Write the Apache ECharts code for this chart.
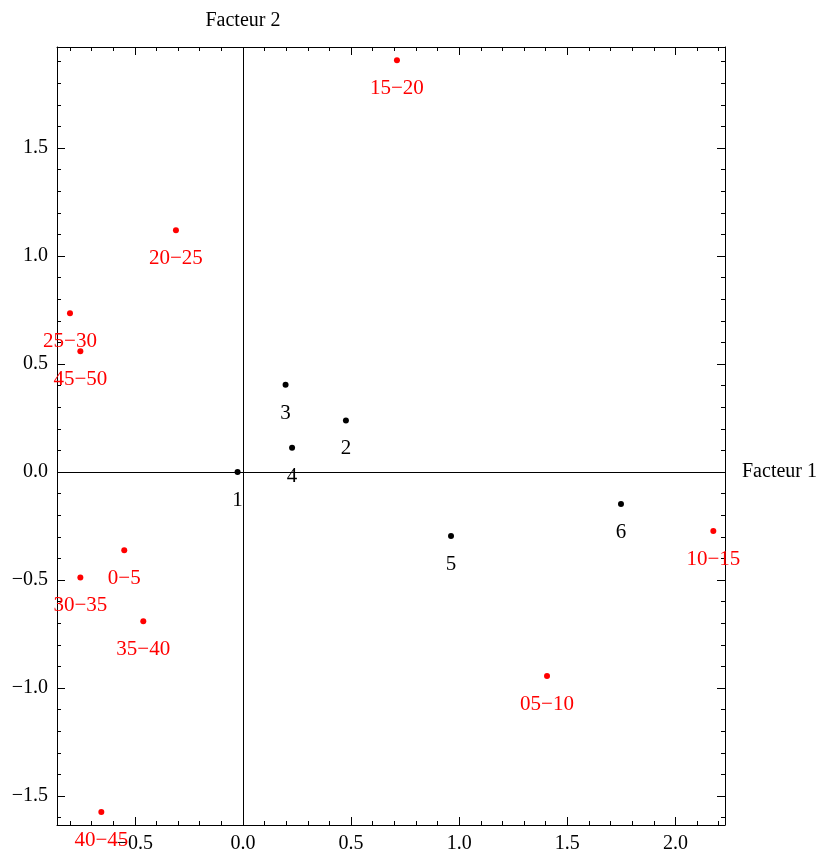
<!DOCTYPE html>
<html>
<head>
<meta charset="utf-8">
<script src="https://cdn.jsdelivr.net/npm/echarts@6/dist/echarts.min.js"></script>
<style>
html,body{margin:0;padding:0;background:#fff;}
#c{width:816px;height:851px;}
</style>
</head>
<body>
<div id="c"></div>
<script>
// ---- data ----
var ageLabels = ['15−20','20−25','25−30','45−50','0−5','30−35','35−40','40−45','10−15','05−10'];
var ageX = [0.712,-0.310,-0.800,-0.752,-0.549,-0.752,-0.461,-0.655,2.175,1.406];
var ageY = [1.907,1.120,0.735,0.559,-0.362,-0.488,-0.691,-1.574,-0.273,-0.944];

var clusterLabels = ['1','2','3','4','5','6'];
var clusterX = [-0.025,0.476,0.197,0.227,0.962,1.748];
var clusterY = [0.000,0.239,0.404,0.113,-0.296,-0.148];

var xMajorTicks = [-0.5,0.0,0.5,1.0,1.5,2.0];
var yMajorTicks = [-1.5,-1.0,-0.5,0.0,0.5,1.0,1.5];
var xRange = [-0.860, 2.229];
var yRange = [-1.634, 1.968];
var xName = 'Facteur 1';
var yName = 'Facteur 2';

// ---- helpers ----
function minorTicks(lo, hi){
  var out = [];
  for (var i = Math.ceil(lo*10); i <= Math.floor(hi*10); i++){
    if (i % 5 !== 0) out.push(Math.round(i)/10);
  }
  return out;
}
var xMinor = minorTicks(xRange[0], xRange[1]);
var yMinor = minorTicks(yRange[0], yRange[1]);
function fmt(v){ return (v < 0 ? '−' : '') + Math.abs(v).toFixed(1); }

var FONT = 'Liberation Serif';
var tickFont = {fontFamily: FONT, fontSize: 20, color: '#000'};

function makeAxis(kind, pos, major, withLine, withLabel, range){
  var vals = major ? (kind==='x' ? xMajorTicks : yMajorTicks) : (kind==='x' ? xMinor : yMinor);
  return {
    type: 'value', position: pos, min: range[0], max: range[1],
    axisLine: {show: withLine, onZero: false, lineStyle: {color: '#000', width: 1}},
    axisTick: {show: true, inside: true, length: major ? 8 : 4, customValues: vals, lineStyle: {color: '#000', width: 1}},
    axisLabel: withLabel ? Object.assign({show: true, customValues: vals, formatter: fmt, margin: 9}, tickFont) : {show: false},
    splitLine: {show: false},
    minorTick: {show: false}
  };
}

var xAxes = [
  makeAxis('x','bottom',true,true,true,xRange),
  makeAxis('x','bottom',false,false,false,xRange),
  makeAxis('x','top',true,true,false,xRange),
  makeAxis('x','top',false,false,false,xRange)
];
var yAxes = [
  makeAxis('y','left',true,true,true,yRange),
  makeAxis('y','left',false,false,false,yRange),
  makeAxis('y','right',true,true,false,yRange),
  makeAxis('y','right',false,false,false,yRange)
];

var ageData = ageX.map(function(x,i){ return {value:[x, ageY[i]], name: ageLabels[i]}; });
var clusterData = clusterX.map(function(x,i){ return {value:[x, clusterY[i]], name: clusterLabels[i]}; });

var option = {
  backgroundColor: '#fff',
  animation: false,
  grid: {left: 57, top: 47, right: 91, bottom: 26, containLabel: false, outerBoundsMode: 'none'},
  xAxis: xAxes,
  yAxis: yAxes,
  series: [
    {
      type: 'scatter', xAxisIndex: 0, yAxisIndex: 0,
      data: [], symbol: 'none', silent: true,
      markLine: {
        silent: true, symbol: 'none', animation: false,
        lineStyle: {color: '#000', width: 1, type: 'solid', opacity: 1},
        data: [
          {yAxis: 0, label: {show: true, position: 'end', formatter: xName, distance: 17,
            fontFamily: FONT, fontSize: 20, color: '#000'}},
          {xAxis: 0, label: {show: true, position: 'end', formatter: yName, distance: 16,
            fontFamily: FONT, fontSize: 20, color: '#000'}}
        ]
      }
    },
    {
      type: 'scatter', xAxisIndex: 0, yAxisIndex: 0, z: 3,
      symbol: 'circle', symbolSize: 6,
      itemStyle: {color: '#ff0000', opacity: 1},
      data: ageData,
      label: {show: true, position: 'bottom', distance: 15, formatter: '{b}',
        fontFamily: FONT, fontSize: 21, color: '#ff0000', opacity: 1}
    },
    {
      type: 'scatter', xAxisIndex: 0, yAxisIndex: 0, z: 3,
      symbol: 'circle', symbolSize: 6,
      itemStyle: {color: '#000000', opacity: 1},
      data: clusterData,
      label: {show: true, position: 'bottom', distance: 15, formatter: '{b}',
        fontFamily: FONT, fontSize: 21, color: '#000000', opacity: 1}
    }
  ]
};
var chart = echarts.init(document.getElementById('c'), null, {renderer: 'canvas'});
chart.setOption(option);
</script>
</body>
</html>
